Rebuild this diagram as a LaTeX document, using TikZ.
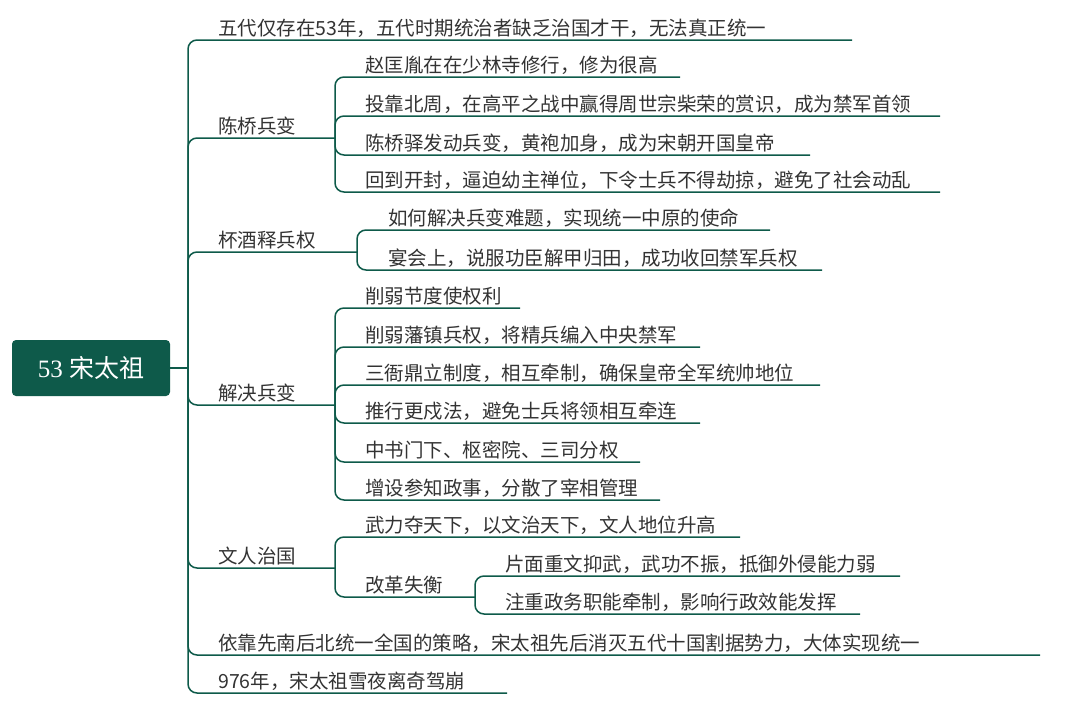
\documentclass[tikz,border=0pt]{standalone}
\usepackage{fontspec}
\setmainfont{Noto Sans CJK SC}
\newfontfamily\rootfont{Liberation Serif}
\definecolor{dg}{HTML}{0E5A4A}
\definecolor{tx}{HTML}{333333}
\newcommand{\br}[7]{%
  \coordinate (#7s) at (#1,#2);
  \coordinate (#7e) at (#5,#4);
  \draw[conn] (#7s) |- (#7e);
  \node[lbl, anchor=base west] (#7) at (#3,#4-5) {#6};}
\begin{document}
\begin{tikzpicture}[x=1pt,y=-1pt,
  conn/.style={draw=dg,line width=1.5pt,rounded corners=9pt},
  lbl/.style={text=tx,inner sep=0pt,font=\fontsize{19.5}{22}\selectfont}]
\useasboundingbox (0,0) rectangle (1080,704);
\node[fill=dg,rounded corners=4pt,minimum width=158pt,minimum height=56pt,text=white,font=\fontsize{25}{28}\selectfont] (root) at (91,368) {\rootfont 53 \normalfont 宋太祖};
\coordinate (rj) at (188,368);
\draw[conn] (root.east) -- (rj);
\br{188}{368}{218}{40}{852}{五代仅存在53年，五代时期统治者缺乏治国才干，无法真正统一}{a}
\br{188}{368}{218}{138}{335}{陈桥兵变}{b}
\br{188}{368}{218}{252}{357}{杯酒释兵权}{c}
\br{188}{368}{218}{405}{335}{解决兵变}{d}
\br{188}{368}{218}{568}{335}{文人治国}{e}
\br{188}{368}{218}{655}{1040}{依靠先南后北统一全国的策略，宋太祖先后消灭五代十国割据势力，大体实现统一}{f}
\br{188}{368}{218}{693}{507}{976年，宋太祖雪夜离奇驾崩}{g}
\br{335}{138}{365}{77}{680}{赵匡胤在在少林寺修行，修为很高}{b1}
\br{335}{138}{365}{116}{940}{投靠北周，在高平之战中赢得周世宗柴荣的赏识，成为禁军首领}{b2}
\br{335}{138}{365}{155}{810}{陈桥驿发动兵变，黄袍加身，成为宋朝开国皇帝}{b3}
\br{335}{138}{365}{192}{940}{回到开封，逼迫幼主禅位，下令士兵不得劫掠，避免了社会动乱}{b4}
\br{357}{252}{388}{230}{770}{如何解决兵变难题，实现统一中原的使命}{c1}
\br{357}{252}{388}{270}{822}{宴会上，说服功臣解甲归田，成功收回禁军兵权}{c2}
\br{335}{405}{365}{308}{520}{削弱节度使权利}{d1}
\br{335}{405}{365}{347}{700}{削弱藩镇兵权，将精兵编入中央禁军}{d2}
\br{335}{405}{365}{385}{820}{三衙鼎立制度，相互牵制，确保皇帝全军统帅地位}{d3}
\br{335}{405}{365}{423}{700}{推行更戍法，避免士兵将领相互牵连}{d4}
\br{335}{405}{365}{462}{640}{中书门下、枢密院、三司分权}{d5}
\br{335}{405}{365}{500}{660}{增设参知政事，分散了宰相管理}{d6}
\br{335}{568}{365}{537}{740}{武力夺天下，以文治天下，文人地位升高}{e1}
\br{335}{568}{365}{597}{475}{改革失衡}{e2}
\br{475}{597}{505}{576}{900}{片面重文抑武，武功不振，抵御外侵能力弱}{e21}
\br{475}{597}{505}{614}{860}{注重政务职能牵制，影响行政效能发挥}{e22}
\end{tikzpicture}
\end{document}
